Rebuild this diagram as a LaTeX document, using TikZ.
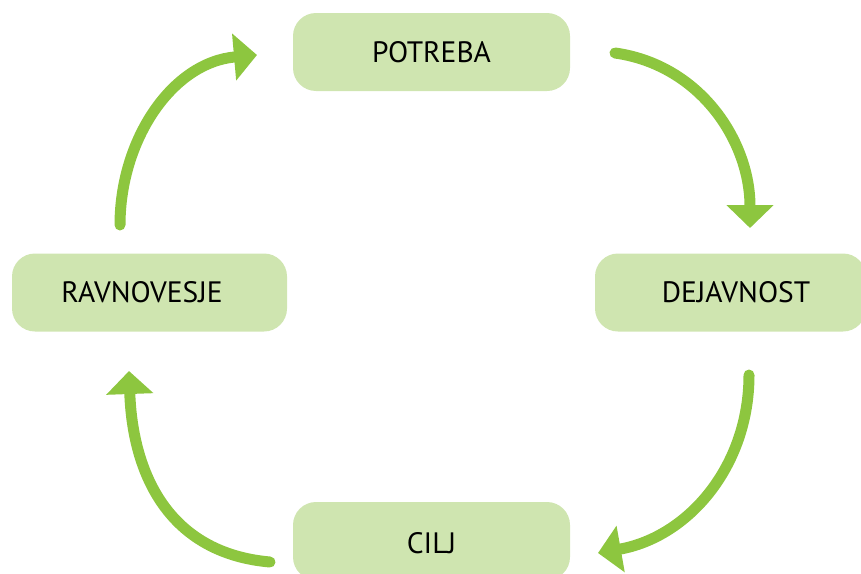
\documentclass[tikz,border=0pt]{standalone}
\usepackage{fontspec}
\setmainfont{PT Sans}
\usetikzlibrary{arrows.meta}
\definecolor{arrgreen}{HTML}{8DC63F}
\definecolor{boxgreen}{HTML}{CFE5B0}
\begin{document}
\begin{tikzpicture}[x=1pt,y=1pt,
  box/.style={fill=boxgreen, draw=none, rounded corners=23pt, minimum height=78pt, inner sep=0pt},
  lbl/.style={font=\fontsize{29.5}{33}\selectfont, text=black, inner sep=0pt},
  flow/.style={draw=arrgreen, line width=11pt, line cap=round, -{Triangle[width=46pt,length=23pt]}, fill=none}
]
\useasboundingbox (0,0) rectangle (861,-573);
\begin{scope}
\clip (0,0) rectangle (861,-573);
\node[box, minimum width=277pt, label={[lbl]center:POTREBA}] (potreba) at (431.5,-52) {};
\node[box, minimum width=275pt, label={[lbl,xshift=-7.5pt]center:RAVNOVESJE}] (ravnovesje) at (149.5,-292.5) {};
\node[box, minimum width=271pt, label={[lbl,xshift=5.5pt]center:DEJAVNOST}] (dejavnost) at (730.5,-292.5) {};
\node[box, minimum width=277pt, label={[lbl,yshift=-2pt]center:CILJ}] (cilj) at (431.5,-541) {};
\end{scope}
\coordinate (a1s) at (615,-53);
\coordinate (a1e) at (750,-228);
\coordinate (a2s) at (749,-375);
\coordinate (a2e) at (598,-553);
\coordinate (a3s) at (270,-562);
\coordinate (a3e) at (129,-371);
\coordinate (a4s) at (120,-225);
\coordinate (a4e) at (257,-55);
\draw[flow] (a1s) to[out=-8, in=90] (a1e);
\draw[flow] (a2s) to[out=-90, in=10] (a2e);
\draw[flow] (a3s) to[out=175, in=-88, looseness=1.1] (a3e);
\draw[flow] (a4s) to[out=90, in=185] (a4e);
\end{tikzpicture}
\end{document}
